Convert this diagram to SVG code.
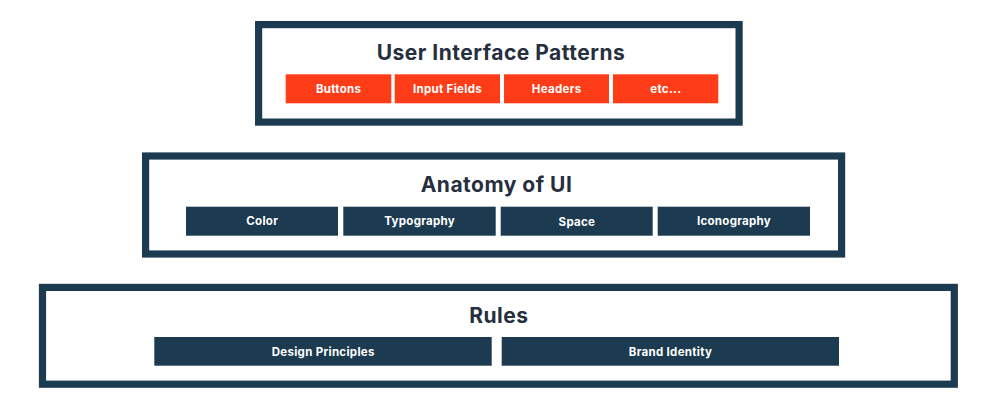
<svg xmlns="http://www.w3.org/2000/svg" width="1000" height="414" viewBox="0 0 1000 414">
<style>
.frame{fill:#ffffff;stroke:#1c3b50;stroke-width:7.2}
.title{font-family:Inter,"Noto Sans","DejaVu Sans",sans-serif;font-weight:700;font-size:21px;letter-spacing:0.5px;fill:#262f3e;text-anchor:middle}
.o{fill:#ff3c18}
.n{fill:#1c3b50}
.lbl{font-family:Inter,"Noto Sans","DejaVu Sans",sans-serif;font-weight:700;font-size:11.5px;letter-spacing:0.3px;fill:#ffffff;text-anchor:middle}
</style>
<rect width="1000" height="414" fill="#ffffff"/>
<g id="patterns">
<rect class="frame" x="258.6" y="24.6" width="480.5" height="97.5"/>
<text class="title" x="501" y="60">User Interface Patterns</text>
<rect class="o" x="285.7" y="74.3" width="105.6" height="29"/>
<text class="lbl" x="338.6" y="93">Buttons</text>
<rect class="o" x="394.7" y="74.3" width="105.3" height="29"/>
<text class="lbl" x="447.5" y="93">Input Fields</text>
<rect class="o" x="504" y="74.3" width="105" height="29"/>
<text class="lbl" x="556.6" y="93">Headers</text>
<rect class="o" x="613" y="74.3" width="105.3" height="29"/>
<text class="lbl" x="665.8" y="93">etc...</text>
</g>
<g id="anatomy">
<rect class="frame" x="145.6" y="156" width="696" height="98"/>
<text class="title" x="496.5" y="192">Anatomy of UI</text>
<rect class="n" x="186" y="206.7" width="152" height="29"/>
<text class="lbl" x="262.2" y="225.4">Color</text>
<rect class="n" x="343.3" y="206.7" width="152.4" height="29"/>
<text class="lbl" x="419.7" y="225.4">Typography</text>
<rect class="n" x="500.7" y="206.7" width="152" height="29"/>
<text class="lbl" x="576.9" y="225.6">Space</text>
<rect class="n" x="657.7" y="206.7" width="152.3" height="29"/>
<text class="lbl" x="734" y="225.4">Iconography</text>
</g>
<g id="rules">
<rect class="frame" x="42.5" y="287.4" width="911.8" height="96.8"/>
<text class="title" x="498.8" y="322.5">Rules</text>
<rect class="n" x="154.3" y="337" width="337.4" height="28.7"/>
<text class="lbl" x="323.2" y="355.6">Design Principles</text>
<rect class="n" x="501.7" y="337" width="337.3" height="28.7"/>
<text class="lbl" x="670.5" y="355.6">Brand Identity</text>
</g>
<g id="connectors"></g>
</svg>
